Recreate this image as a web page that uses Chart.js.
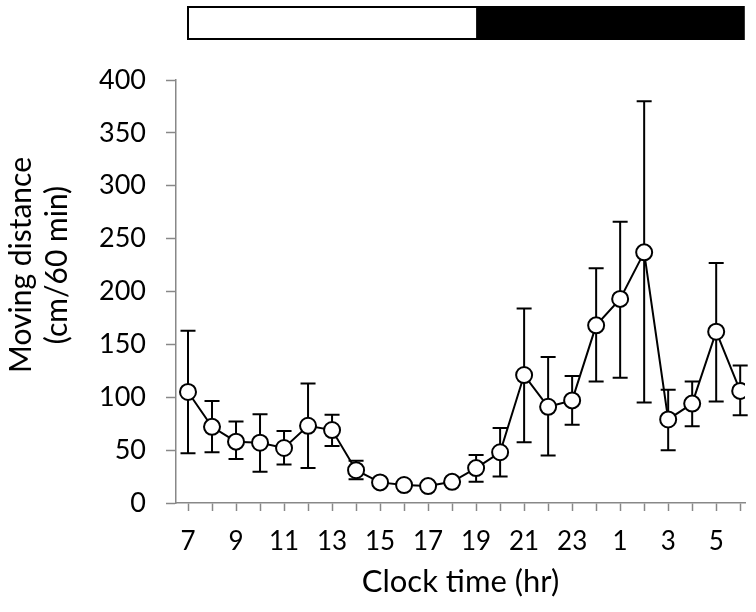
<!DOCTYPE html>
<html>
<head>
<meta charset="utf-8">
<script src="https://cdn.jsdelivr.net/npm/chart.js@4"></script>
<style>
  html, body { margin: 0; padding: 0; background: #fff; }
  #wrap { width: 756px; height: 612px; }
</style>
</head>
<body>
<div id="wrap"><canvas id="chart"></canvas></div>
<script>
// clock hours, one point per hour starting at lights on
var hours = ['7','8','9','10','11','12','13','14','15','16','17','18',
             '19','20','21','22','23','0','1','2','3','4','5','6'];
// mean moving distance (cm/60 min)
var means = [105, 72, 58, 57, 52, 73, 69, 31, 19.5, 17, 16, 20,
             33, 48, 121, 91, 97, 168, 193, 237, 79, 94, 162, 106];
// error bar ends
var upper = [163, 96.5, 77, 84, 68, 113, 83.5, 40, 23, 20, 19, 23,
             45.5, 71, 184, 138, 120, 222, 266, 380, 107, 115, 227, 130];
var lower = [47, 48, 41.5, 29.5, 36.5, 33, 54, 22.5, 16, 14, 13, 17,
             20, 25, 57.5, 45, 74, 115, 118.5, 95, 50, 72.5, 96, 83];
// light / dark bar, in hour-index units on the x axis
var lightStart = 0;    // 7:00 lights on
var lightEnd = 12;     // 19:00 lights off
var darkEnd = 23.15;

var yTitle = ['Moving distance', '(cm/60 min)'];
var xTitle = 'Clock time (hr)';

var AXIS_GREY = '#888888';
var FONT = 'Lato, "Open Sans", sans-serif';

var points = [];
for (var i = 0; i < means.length; i++) {
  points.push({ x: i, y: means[i] });
}

// error bars under the circles
var errorBars = {
  id: 'errorBars',
  beforeDatasetsDraw: function(chart) {
    var ctx = chart.ctx;
    var xs = chart.scales.x, ys = chart.scales.y;
    ctx.save();
    ctx.strokeStyle = '#000';
    ctx.lineWidth = 2;
    for (var i = 0; i < means.length; i++) {
      var px = xs.getPixelForValue(i);
      var top = ys.getPixelForValue(upper[i]);
      var bot = ys.getPixelForValue(lower[i]);
      ctx.beginPath();
      ctx.moveTo(px, top); ctx.lineTo(px, bot);
      ctx.moveTo(px - 7.5, top); ctx.lineTo(px + 7.5, top);
      ctx.moveTo(px - 7.5, bot); ctx.lineTo(px + 7.5, bot);
      ctx.stroke();
    }
    ctx.restore();
  }
};

// light/dark bar above the plot + y title (sits a bit above the axis centre)
var decorations = {
  id: 'decorations',
  afterDraw: function(chart) {
    var ctx = chart.ctx;
    var xs = chart.scales.x;
    var x0 = xs.getPixelForValue(lightStart);
    var x1 = xs.getPixelForValue(lightEnd);
    var x2 = xs.getPixelForValue(darkEnd);
    var y0 = 7, h = 32;
    ctx.save();
    ctx.fillStyle = '#fff';
    ctx.fillRect(x0, y0, x1 - x0, h);
    ctx.fillStyle = '#000';
    ctx.fillRect(x1, y0, x2 - x1, h);
    ctx.strokeStyle = '#000';
    ctx.lineWidth = 2;
    ctx.strokeRect(x0, y0, x2 - x0, h);

    ctx.translate(21, 265);
    ctx.rotate(-Math.PI / 2);
    ctx.fillStyle = '#000';
    ctx.font = '30px ' + FONT;
    ctx.textAlign = 'center';
    ctx.textBaseline = 'middle';
    ctx.fillText(yTitle[0], 0, 0);
    ctx.fillText(yTitle[1], 0, 36);
    ctx.restore();
  }
};

new Chart(document.getElementById('chart'), {
  type: 'line',
  data: {
    datasets: [{
      data: points,
      borderColor: '#000',
      borderWidth: 2,
      pointRadius: 8,
      pointBorderWidth: 2,
      pointBackgroundColor: '#fff',
      pointBorderColor: '#000',
      tension: 0,
      fill: false
    }]
  },
  options: {
    responsive: true,
    maintainAspectRatio: false,
    animation: false,
    layout: { padding: { top: 80, right: 11, left: 0, bottom: 0 } },
    plugins: {
      legend: { display: false },
      tooltip: { enabled: false }
    },
    scales: {
      x: {
        type: 'linear',
        min: -0.5,
        max: 23.2,
        afterBuildTicks: function(scale) {
          scale.ticks = hours.map(function(h, i) { return { value: i }; });
        },
        afterFit: function(scale) { scale.height = 109; },
        ticks: {
          autoSkip: false,
          maxRotation: 0,
          color: '#000',
          padding: 15,
          font: { family: FONT, size: 26 },
          callback: function(v) { return v % 2 === 0 ? hours[v] : ''; }
        },
        grid: { drawOnChartArea: false, color: AXIS_GREY, tickLength: 8, tickWidth: 1.5 },
        border: { color: AXIS_GREY, width: 1.5 },
        title: {
          display: true,
          text: xTitle,
          color: '#000',
          font: { family: FONT, size: 31 },
          padding: { top: 0, bottom: 11 }
        }
      },
      y: {
        min: 0,
        max: 400,
        afterFit: function(scale) { scale.width = 176; },
        ticks: {
          stepSize: 50,
          color: '#000',
          padding: 20,
          font: { family: FONT, size: 27 }
        },
        grid: { drawOnChartArea: false, color: AXIS_GREY, tickLength: 10, tickWidth: 1.5 },
        border: { color: AXIS_GREY, width: 1.5 }
      }
    }
  },
  plugins: [errorBars, decorations]
});
</script>
</body>
</html>
